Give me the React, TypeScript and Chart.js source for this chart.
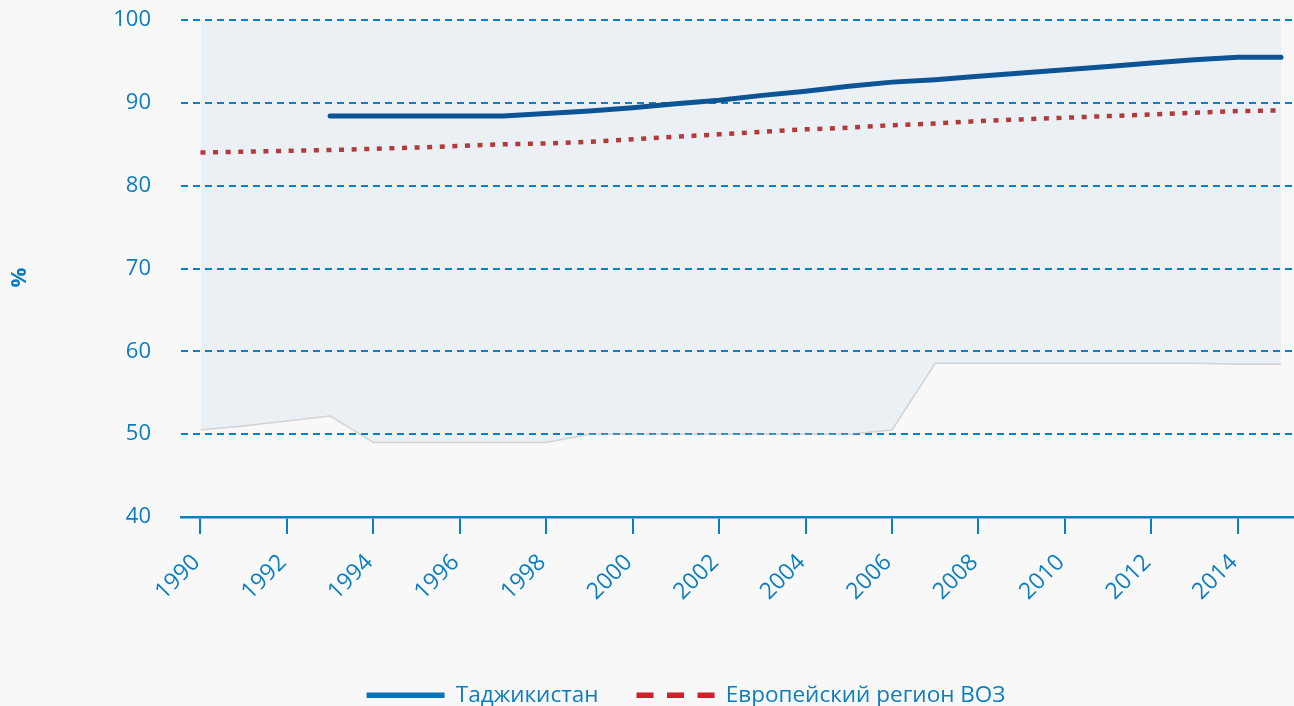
import React, { useEffect, useRef } from 'react';
import { Chart, registerables } from 'chart.js';

Chart.register(...registerables);

// ---- data ----
const years = [1990, 1991, 1992, 1993, 1994, 1995, 1996, 1997, 1998, 1999, 2000, 2001, 2002,
  2003, 2004, 2005, 2006, 2007, 2008, 2009, 2010, 2011, 2012, 2013, 2014, 2015];

const tajikistan = [null, null, null, 88.4, 88.4, 88.4, 88.4, 88.4, 88.7, 89.0, 89.4, 89.9, 90.3,
  90.9, 91.4, 92.0, 92.5, 92.8, 93.2, 93.6, 94.0, 94.4, 94.8, 95.2, 95.5, 95.5];

const europe = [84.0, 84.1, 84.2, 84.3, 84.45, 84.6, 84.8, 85.0, 85.1, 85.3, 85.6, 85.9, 86.2,
  86.5, 86.8, 87.0, 87.3, 87.5, 87.8, 88.0, 88.2, 88.4, 88.6, 88.8, 89.0, 89.1];

const rangeUpper = [100, 100, 100, 100, 100, 100, 100, 100, 100, 100, 100, 100, 100,
  100, 100, 100, 100, 100, 100, 100, 100, 100, 100, 100, 100, 100];

const rangeLower = [50.5, 51.0, 51.6, 52.2, 49.0, 49.0, 49.0, 49.0, 49.0, 50.0, 50.0, 50.0, 50.0,
  50.0, 50.0, 50.0, 50.5, 58.55, 58.55, 58.55, 58.55, 58.55, 58.55, 58.55, 58.45, 58.45];

const xTickYears = [1990, 1992, 1994, 1996, 1998, 2000, 2002, 2004, 2006, 2008, 2010, 2012, 2014];
const seriesNames = ['Таджикистан', 'Европейский регион ВОЗ'];
const yTitle = '%';

// ---- styles ----
const FONT = "'Open Sans', sans-serif";
const BLUE_TEXT = '#0b7dc1';
const GRID_BLUE = '#0a80c4';
const TJ_COLOR = '#0d5494';
const EU_COLOR = '#b33a3a';
const LEGEND_TJ = '#0a74b8';
const LEGEND_EU = '#d0202a';
const BAND_FILL = '#ebf0f5';
const LEGEND_SHIFT = 39;
const PLOT_TOP = 20;
const TITLE_SHIFT_Y = 9;

const pts = (vals: (number | null)[]) => years.map((y, i) => ({ x: y, y: vals[i] }));

export default function App() {
  const ref = useRef<HTMLCanvasElement | null>(null);

  useEffect(() => {
    if (!ref.current) return;
    const layoutTweak = {
      id: 'layoutTweak',
      afterLayout(chart: any) {
        const l = chart.legend;
        if (l) {
          l.left += LEGEND_SHIFT;
          l.right += LEGEND_SHIFT;
        }
        const ca = chart.chartArea;
        const ys = chart.scales.y;
        if (ca && ca.top !== PLOT_TOP) {
          ca.top = PLOT_TOP;
          ca.height = ca.bottom - PLOT_TOP;
          if (ys) {
            ys.top = PLOT_TOP;
            ys.height = ys.bottom - PLOT_TOP;
            ys.configure();
          }
        }
        if (ys && !ys.__titlePatched) {
          const orig = ys.drawTitle;
          ys.drawTitle = function () {
            const ctx = this.ctx;
            ctx.save();
            ctx.translate(0, TITLE_SHIFT_Y);
            orig.call(this);
            ctx.restore();
          };
          ys.__titlePatched = true;
        }
      },
    };

    const chart = new Chart(ref.current, {
      type: 'line',
      data: {
        datasets: [
          {
            label: seriesNames[0],
            data: pts(tajikistan),
            borderColor: TJ_COLOR,
            borderWidth: 5,
            borderCapStyle: 'round',
            borderJoinStyle: 'round',
            pointRadius: 0,
            fill: false,
            spanGaps: false,
          },
          {
            label: seriesNames[1],
            data: pts(europe),
            borderColor: EU_COLOR,
            borderWidth: 4.5,
            borderDash: [5, 7.6],
            pointRadius: 0,
            fill: false,
          },
          {
            label: 'range-upper',
            data: pts(rangeUpper),
            borderColor: 'rgba(0,0,0,0)',
            borderWidth: 0,
            backgroundColor: BAND_FILL,
            pointRadius: 0,
            fill: '+1',
          },
          {
            label: 'range-lower',
            data: pts(rangeLower),
            borderColor: 'rgba(170,170,170,0.45)',
            borderWidth: 1.5,
            pointRadius: 0,
            fill: false,
          },
        ],
      } as any,
      options: {
        animation: false,
        responsive: false,
        maintainAspectRatio: false,
        layout: { autoPadding: false, padding: { top: 20, left: 0, right: 0, bottom: 0 } },
        plugins: {
          tooltip: { enabled: false },
          filler: { drawTime: 'beforeDraw' } as any,
          legend: {
            display: true,
            position: 'bottom',
            align: 'center',
            maxHeight: 60,
            labels: {
              usePointStyle: true,
              pointStyleWidth: 78,
              padding: 38,
              color: BLUE_TEXT,
              font: { family: FONT, size: 22.5 },
              generateLabels: () => [
                {
                  text: seriesNames[0],
                  fillStyle: LEGEND_TJ,
                  strokeStyle: LEGEND_TJ,
                  lineWidth: 5.5,
                  lineDash: [],
                  pointStyle: 'line',
                  hidden: false,
                  datasetIndex: 0,
                  fontColor: BLUE_TEXT,
                },
                {
                  text: seriesNames[1],
                  fillStyle: LEGEND_EU,
                  strokeStyle: LEGEND_EU,
                  lineWidth: 5.5,
                  lineDash: [17, 13.5],
                  pointStyle: 'line',
                  hidden: false,
                  datasetIndex: 1,
                  fontColor: BLUE_TEXT,
                },
              ] as any,
            },
          },
        },
        scales: {
          x: {
            type: 'linear',
            min: 1989.55,
            max: 2015.3,
            afterBuildTicks: (scale: any) => {
              scale.ticks = xTickYears.map((v) => ({ value: v }));
            },
            afterFit: (scale: any) => {
              scale.height = 129;
            },
            grid: {
              drawOnChartArea: false,
              drawTicks: true,
              tickLength: 17,
              color: GRID_BLUE,
              lineWidth: 2,
            },
            border: { display: true, color: GRID_BLUE, width: 2.5 },
            ticks: {
              color: BLUE_TEXT,
              font: { family: FONT, size: 23 },
              minRotation: 45,
              maxRotation: 45,
              padding: 15,
              labelOffset: -4,
              autoSkip: false,
              callback: (v: any) => String(v),
            },
          },
          y: {
            min: 40,
            max: 100,
            afterFit: (scale: any) => {
              scale.width = 181;
            },
            grid: {
              drawTicks: false,
              color: GRID_BLUE,
              lineWidth: 2,
            },
            border: { display: false, dash: [7, 5] },
            ticks: {
              stepSize: 10,
              padding: 30,
              color: BLUE_TEXT,
              font: { family: FONT, size: 22 },
            },
            title: {
              display: true,
              text: yTitle,
              color: BLUE_TEXT,
              font: { family: FONT, size: 22, weight: 'bold' },
              padding: { top: 7, bottom: 0 },
            },
          },
        },
      } as any,
      plugins: [layoutTweak],
    });
    return () => chart.destroy();
  }, []);

  return (
    <div
      style={{
        position: 'fixed',
        left: 0,
        top: 0,
        width: 1294,
        height: 706,
        background: '#f8f8f8',
      }}
    >
      <canvas ref={ref} width={1294} height={706} style={{ display: 'block' }} />
    </div>
  );
}
